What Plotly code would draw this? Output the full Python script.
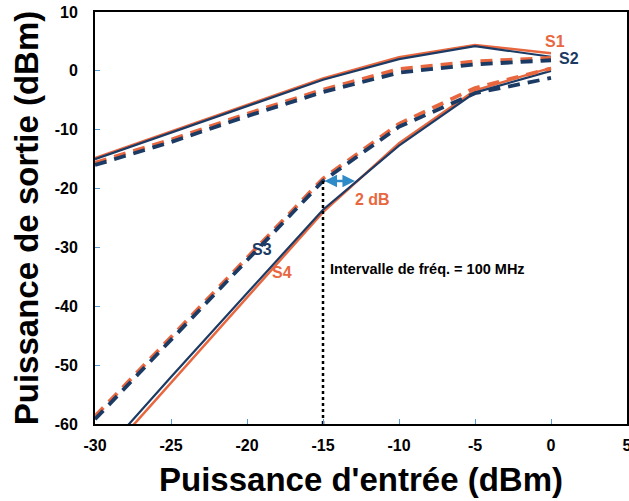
import plotly.graph_objects as go

x_in = [-30, -25, -20, -15, -10, -5, 0]

# Upper pair (saturated outputs)
s1_solid_orange = [-14.8, -10.3, -5.8, -1.3, 2.3, 4.4, 3.0]
s1_solid_navy = [-15.0, -10.5, -6.0, -1.5, 2.0, 4.2, 2.4]
s2_dash_orange = [-15.6, -11.7, -7.3, -3.2, 0.3, 1.6, 2.2]
s2_dash_navy = [-16.0, -12.1, -7.7, -3.6, -0.3, 1.1, 1.8]

# Lower pair (linear region)
s4_solid_orange = [-67.5, -53.0, -38.5, -24.0, -12.3, -3.3, 0.5]
s4_solid_navy = [-66.5, -52.0, -37.8, -23.6, -12.7, -3.7, 0.0]
s3_dash_orange = [-58.7, -45.2, -31.6, -18.3, -9.0, -2.9, 0.4]
s3_dash_navy = [-59.2, -45.7, -32.1, -18.7, -9.5, -3.8, -1.2]

x_ticks = [-30, -25, -20, -15, -10, -5, 0, 5]
x_tick_labels = ["-30", "-25", "-20", "-15", "-10", "-5", "0", "5"]
y_ticks = [-60, -50, -40, -30, -20, -10, 0, 10]
y_tick_labels = ["-60", "-50", "-40", "-30", "-20", "-10", "0", "10"]

ORANGE = "#E8673F"
NAVY = "#1B3A64"
FONT = "Liberation Sans, Arial, sans-serif"

fig = go.Figure()

def add(y, color, dash, width):
    fig.add_trace(go.Scatter(x=x_in, y=y, mode="lines",
                             line=dict(color=color, dash=dash, width=width),
                             showlegend=False, hoverinfo="skip"))

DASH = "12px,8px"
add(s1_solid_orange, ORANGE, "solid", 2.5)
add(s1_solid_navy, NAVY, "solid", 2.2)
add(s2_dash_orange, ORANGE, DASH, 3.8)
add(s2_dash_navy, NAVY, DASH, 3.8)
add(s4_solid_orange, ORANGE, "solid", 2.5)
add(s4_solid_navy, NAVY, "solid", 2.2)
add(s3_dash_orange, ORANGE, DASH, 3.8)
add(s3_dash_navy, NAVY, DASH, 3.8)

# dotted vertical at -15 dBm input
x_mark = -15
y_mark = s3_dash_navy[x_in.index(x_mark)]
fig.add_trace(go.Scatter(x=[x_mark, x_mark], y=[y_mark, y_ticks[0]], mode="lines",
                         line=dict(color="black", dash="dot", width=2.5),
                         showlegend=False, hoverinfo="skip"))

# 2 dB double arrow
fig.add_annotation(x=x_mark + 2.1, y=y_mark, ax=x_mark, ay=y_mark,
                   xref="x", yref="y", axref="x", ayref="y",
                   showarrow=True, arrowhead=2, arrowside="end+start",
                   arrowsize=1, arrowwidth=2.5, arrowcolor="#2E8BC8", text="")

def label(x, y, text, color, size=16):
    fig.add_annotation(x=x, y=y, text=f"<b>{text}</b>", showarrow=False,
                       xref="x", yref="y", font=dict(color=color, size=size, family=FONT),
                       xanchor="left")

label(-0.5, 5.0, "S1", ORANGE)
label(0.4, 2.1, "S2", NAVY)
label(-19.8, -30.3, "S3", NAVY)
label(-18.5, -34.3, "S4", ORANGE)
label(-13.0, -21.8, "2 dB", ORANGE)
label(-14.7, -33.7, "Intervalle de fréq. = 100 MHz", "black", 14.5)

fig.update_layout(
    width=629, height=501,
    margin=dict(l=95, r=2, t=12, b=77),
    paper_bgcolor="white", plot_bgcolor="white",
    font=dict(family=FONT, color="black"),
)
fig.update_xaxes(range=[-30, 5], tickvals=x_ticks, ticktext=x_tick_labels,
                 ticks="inside", ticklen=5, automargin=False, ticklabeloverflow="allow",
                 tickcolor="#5B9BD5", showgrid=False, zeroline=False,
                 showline=True, linecolor="black", linewidth=2, mirror=True,
                 tickfont=dict(size=16, family=FONT, weight="bold"), ticklabelstandoff=6,
                 title=dict(text="<b>Puissance d'entrée (dBm)</b>",
                            font=dict(size=33, family=FONT), standoff=15))
fig.update_yaxes(range=[-60, 10], tickvals=y_ticks, ticktext=y_tick_labels,
                 ticks="inside", ticklen=5, automargin=False, ticklabeloverflow="allow",
                 tickcolor="#5B9BD5", showgrid=False, zeroline=False,
                 showline=True, linecolor="black", linewidth=2, mirror=True,
                 tickfont=dict(size=16, family=FONT, weight="bold"), ticklabelstandoff=12,
                 title=dict(text="<b>Puissance de sortie (dBm)</b>",
                            font=dict(size=33, family=FONT), standoff=6))

fig.write_html("out.html", config={"displayModeBar": False},
               post_script="document.body.style.margin='0';")
